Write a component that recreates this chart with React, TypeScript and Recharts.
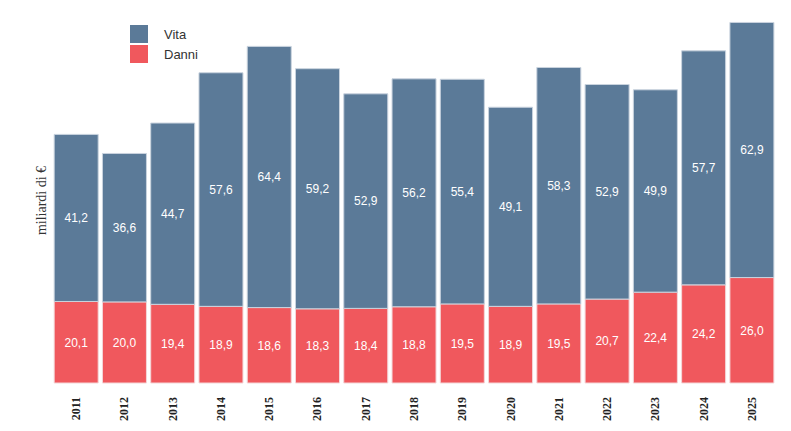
import { BarChart, Bar, XAxis, YAxis, LabelList } from 'recharts'

const YEARS = ['2011', '2012', '2013', '2014', '2015', '2016', '2017', '2018', '2019', '2020', '2021', '2022', '2023', '2024', '2025']
const VITA = [41.2, 36.6, 44.7, 57.6, 64.4, 59.2, 52.9, 56.2, 55.4, 49.1, 58.3, 52.9, 49.9, 57.7, 62.9]
const DANNI = [20.1, 20.0, 19.4, 18.9, 18.6, 18.3, 18.4, 18.8, 19.5, 18.9, 19.5, 20.7, 22.4, 24.2, 26.0]

const VITA_COLOR = '#5b7a98'
const DANNI_COLOR = '#f0585d'

const data = YEARS.map((y, i) => ({ year: y, danni: DANNI[i], vita: VITA[i] }))

const fmt = (v: number) => v.toFixed(1).replace('.', ',')

const YearTick = ({ x, y, payload }: any) => (
  <text
    x={x}
    y={y + 6}
    transform={`rotate(-90, ${x}, ${y + 6})`}
    textAnchor="end"
    dominantBaseline="central"
    fontFamily="Liberation Serif, serif"
    fontWeight="bold"
    fontSize={12}
    fill="#222"
  >
    {payload.value}
  </text>
)

const LegendBox = () => (
  <div
    style={{
      position: 'absolute',
      top: 16,
      left: 122,
      fontFamily: 'Liberation Sans, Arial, sans-serif',
      fontSize: 13,
      color: '#333',
    }}
  >
    {[
      { name: 'Vita', color: VITA_COLOR },
      { name: 'Danni', color: DANNI_COLOR },
    ].map((it) => (
      <div key={it.name} style={{ display: 'flex', alignItems: 'center', height: 20 }}>
        <span style={{ width: 18, height: 18, background: it.color, display: 'inline-block', marginRight: 16 }} />
        {it.name}
      </div>
    ))}
  </div>
)

export default function App() {
  return (
    <div style={{ position: 'relative', width: 775, height: 415 }}>
      <BarChart
        width={775}
        height={415}
        data={data}
        margin={{ top: 10, right: 7, left: 0, bottom: 0 }}
        barCategoryGap="4.5%"
      >
        <XAxis dataKey="year" axisLine={false} tickLine={false} height={40} tick={<YearTick />} interval={0} />
        <YAxis
          domain={[0, 90]}
          width={44}
          tick={false}
          axisLine={false}
          tickLine={false}
          label={{
            value: 'miliardi di €',
            angle: -90,
            position: 'insideLeft',
            dx: 28,
            style: { fontFamily: 'Liberation Serif, serif', fontSize: 14, fill: '#333', textAnchor: 'middle' },
          }}
        />
        <Bar dataKey="danni" stackId="a" fill={DANNI_COLOR} stroke="#f4d6d8" strokeWidth={1} isAnimationActive={false}>
          <LabelList
            dataKey="danni"
            position="center"
            formatter={fmt}
            style={{ fill: '#fff', fontFamily: 'Liberation Sans, Arial, sans-serif', fontSize: 12 }}
          />
        </Bar>
        <Bar dataKey="vita" stackId="a" fill={VITA_COLOR} stroke="#c9d3de" strokeWidth={1} isAnimationActive={false}>
          <LabelList
            dataKey="vita"
            position="center"
            formatter={fmt}
            style={{ fill: '#fff', fontFamily: 'Liberation Sans, Arial, sans-serif', fontSize: 12 }}
          />
        </Bar>
      </BarChart>
      <LegendBox />
    </div>
  )
}
